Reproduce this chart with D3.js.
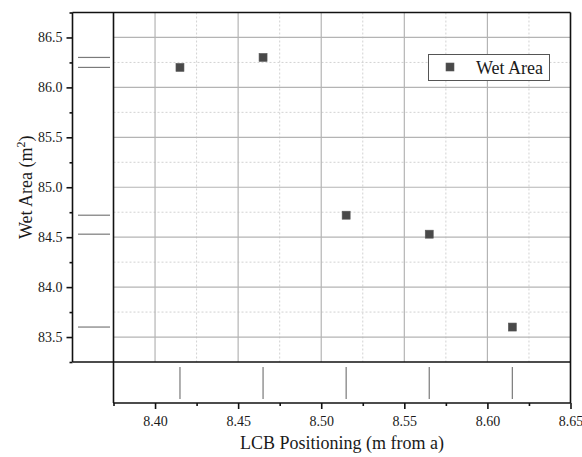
<!DOCTYPE html>
<html>
<head>
<meta charset="utf-8">
<script src="https://cdn.jsdelivr.net/npm/d3@7"></script>
<style>
  html, body { margin: 0; padding: 0; background: #fff; }
  svg { display: block; }
  svg text { font-family: "Liberation Serif", "LiberationSerif", "Tinos", "DejaVu Serif", "Noto Serif", serif !important; fill: #1a1a1a; }
</style>
</head>
<body>
<svg id="chart" width="582" height="457"></svg>
<script>
// LCB position (m from a) and resulting wetted area (m²)
const lcbPositions = [8.415, 8.465, 8.515, 8.565, 8.615];
const wetAreas     = [86.20, 86.30, 84.72, 84.53, 83.60];

const seriesName = "Wet Area";
const xTitle = "LCB Positioning (m from a)";
const yTitle = "Wet Area (m";

const xMajorTicks = [8.40, 8.45, 8.50, 8.55, 8.60, 8.65];
const xMinorTicks = [8.375, 8.425, 8.475, 8.525, 8.575, 8.625];
const yMajorTicks = [83.5, 84.0, 84.5, 85.0, 85.5, 86.0, 86.5];
const yMinorTicks = [83.25, 83.75, 84.25, 84.75, 85.25, 85.75, 86.25, 86.75];

const data = lcbPositions.map((x, i) => ({ x, y: wetAreas[i] }));

// frame geometry
const outerLeft = 72.5;   // left edge of the y margin panel
const plotLeft  = 113.5;  // left edge of the main plot
const plotRight = 570.5;
const plotTop   = 12.5;
const plotBottom = 362;   // bottom of the main plot
const rugBottom = 403;    // bottom of the x margin panel

const serif = "'Liberation Serif', 'Tinos', 'DejaVu Serif', serif";

const svg = d3.select("#chart");

const x = d3.scaleLinear().domain([8.375, 8.65]).range([plotLeft, plotRight]);
const y = d3.scaleLinear().domain([83.25, 86.75]).range([plotBottom, plotTop]);

// grid: dotted minor lines, solid major lines
const grid = svg.append("g");
grid.selectAll(".xminor").data(xMinorTicks.slice(1)).join("line")
  .attr("x1", d => x(d)).attr("x2", d => x(d))
  .attr("y1", plotTop).attr("y2", plotBottom)
  .attr("stroke", "#d2d2d2").attr("stroke-width", 1).attr("stroke-dasharray", "2,2");
grid.selectAll(".yminor").data(yMinorTicks.slice(1, -1)).join("line")
  .attr("x1", plotLeft).attr("x2", plotRight)
  .attr("y1", d => y(d)).attr("y2", d => y(d))
  .attr("stroke", "#d2d2d2").attr("stroke-width", 1).attr("stroke-dasharray", "2,2");
grid.selectAll(".xmajor").data(xMajorTicks.slice(0, -1)).join("line")
  .attr("x1", d => x(d)).attr("x2", d => x(d))
  .attr("y1", plotTop).attr("y2", plotBottom)
  .attr("stroke", "#b4b4b4").attr("stroke-width", 1.2);
grid.selectAll(".ymajor").data(yMajorTicks).join("line")
  .attr("x1", plotLeft).attr("x2", plotRight)
  .attr("y1", d => y(d)).attr("y2", d => y(d))
  .attr("stroke", "#b4b4b4").attr("stroke-width", 1.2);

// rug marks in the margin panels
svg.append("g").selectAll("line").data(data).join("line")
  .attr("x1", 78).attr("x2", 110)
  .attr("y1", d => y(d.y)).attr("y2", d => y(d.y))
  .attr("stroke", "#7a7a7a").attr("stroke-width", 1.2);
svg.append("g").selectAll("line").data(data).join("line")
  .attr("x1", d => x(d.x)).attr("x2", d => x(d.x))
  .attr("y1", 367).attr("y2", 399)
  .attr("stroke", "#7a7a7a").attr("stroke-width", 1.2);

// frame lines
const frame = svg.append("g").attr("stroke", "#111").attr("stroke-width", 1.6).attr("fill", "none");
frame.append("line").attr("x1", outerLeft).attr("x2", plotRight).attr("y1", plotTop).attr("y2", plotTop);
frame.append("line").attr("x1", outerLeft).attr("x2", plotRight).attr("y1", plotBottom).attr("y2", plotBottom);
frame.append("line").attr("x1", plotLeft).attr("x2", plotLeft).attr("y1", plotTop).attr("y2", rugBottom);
frame.append("line").attr("x1", plotRight).attr("x2", plotRight).attr("y1", plotTop).attr("y2", rugBottom);

// axes
const yAxis = svg.append("g").attr("transform", `translate(${outerLeft},0)`)
  .call(d3.axisLeft(y).tickValues(yMajorTicks).tickFormat(d3.format(".1f")).tickSize(6).tickPadding(4));
svg.append("g").attr("transform", `translate(${outerLeft},0)`)
  .call(d3.axisLeft(y).tickValues(yMinorTicks).tickFormat("").tickSize(3))
  .select(".domain").remove();

const xAxis = svg.append("g").attr("transform", `translate(0,${rugBottom})`)
  .call(d3.axisBottom(x).tickValues(xMajorTicks).tickFormat(d3.format(".2f")).tickSize(6).tickPadding(7));
svg.append("g").attr("transform", `translate(0,${rugBottom})`)
  .call(d3.axisBottom(x).tickValues(xMinorTicks).tickFormat("").tickSize(3))
  .select(".domain").remove();

yAxis.select(".domain").attr("d", `M0,${plotTop}V${plotBottom}`);
xAxis.select(".domain").attr("d", `M${plotLeft},0H${plotRight}`);

svg.selectAll("g").attr("font-family", null);
svg.selectAll(".domain").attr("stroke", "#111").attr("stroke-width", 1.6);
svg.selectAll(".tick line").attr("stroke", "#111").attr("stroke-width", 1.6);
svg.selectAll(".tick text")
  .style("font-family", serif)
  .attr("font-size", 14).attr("fill", "#1a1a1a");

// data points
svg.append("g").selectAll("rect").data(data).join("rect")
  .attr("x", d => x(d.x) - 4).attr("y", d => y(d.y) - 4)
  .attr("width", 8).attr("height", 8)
  .attr("fill", "#494949").attr("stroke", "#5a5a5a").attr("stroke-width", 0.6);

// axis titles
svg.append("text")
  .attr("x", (plotLeft + plotRight) / 2).attr("y", 449)
  .attr("text-anchor", "middle").attr("font-size", 18)
  .style("font-family", serif)
  .text(xTitle);

const yt = svg.append("text")
  .attr("transform", `translate(31.5,${(plotTop + plotBottom) / 2}) rotate(-90)`)
  .attr("text-anchor", "middle").attr("font-size", 18)
  .style("font-family", serif);
yt.append("tspan").text(yTitle);
yt.append("tspan").attr("font-size", 12).attr("dy", -7).text("2");
yt.append("tspan").attr("dy", 7).text(")");

// legend
const legend = svg.append("g");
legend.append("rect")
  .attr("x", 428.5).attr("y", 54.5).attr("width", 121).attr("height", 26)
  .attr("fill", "#fff").attr("stroke", "#555").attr("stroke-width", 1);
legend.append("rect")
  .attr("x", 446).attr("y", 63).attr("width", 8).attr("height", 8)
  .attr("fill", "#494949").attr("stroke", "#5a5a5a").attr("stroke-width", 0.6);
legend.append("text")
  .attr("x", 476).attr("y", 73.5).attr("font-size", 18)
  .style("font-family", serif)
  .text(seriesName);
</script>
</body>
</html>
